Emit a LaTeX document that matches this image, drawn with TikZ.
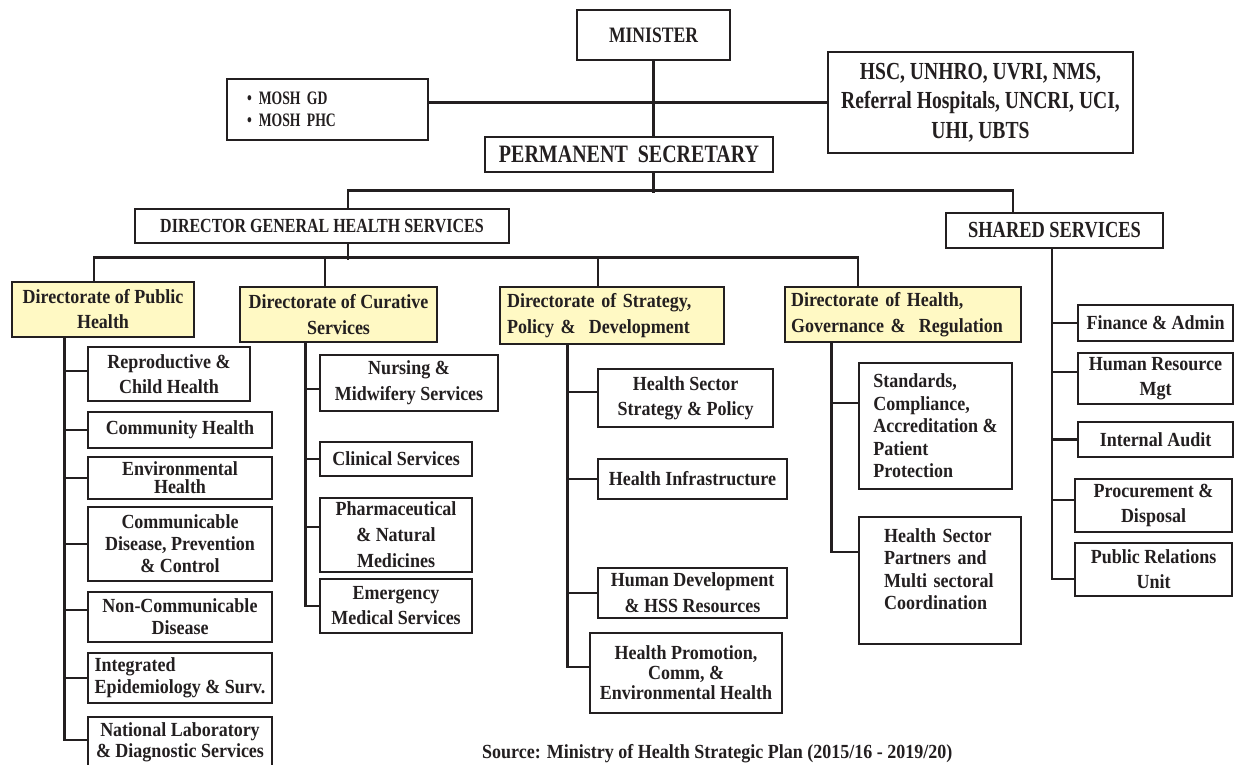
\documentclass[tikz,border=0pt]{standalone}
\usepackage{fontspec}
\setmainfont{Liberation Serif}
\newfontfamily\bodyf[FakeStretch=0.9]{Liberation Serif}
\newfontfamily\headf[FakeStretch=0.8]{Liberation Serif}
\newfontfamily\moshf[FakeStretch=0.72]{Liberation Serif}
\definecolor{diryellow}{RGB}{255,249,196}
\definecolor{ink}{RGB}{35,31,32}
\tikzset{
  box/.style={draw=ink, line width=2.6pt, inner sep=0pt, align=center, text=ink,
    font=\bodyf\bfseries\fontsize{20}{25}\selectfont},
  dirbox/.style={box, fill=diryellow},
  bs/.style={font=\bodyf\bfseries\fontsize{20}{#1}\selectfont},
  hd/.style={font=\headf\bfseries\fontsize{#1}{#1}\selectfont},
  conn/.style={draw=ink, line width=2.6pt},
}
\newcommand\bx[7][]{\node[box,#1,minimum width={#5pt-#3pt},minimum height={#6pt-#4pt}] (#2) at ({(#3+#5)/2},{(#4+#6)/2}) {#7};}
\begin{document}
\begin{tikzpicture}[x=1pt,y=-1pt]
\fill[white] (0,0) rectangle (1234,764);
\useasboundingbox (0,0) rectangle (1234,764);

% top level
\bx[hd=22]{minister}{577}{10}{730}{60}{MINISTER}
\bx[font=\moshf\bfseries\fontsize{19}{22}\selectfont, align=left, text width=161pt]{mosh}{227}{79}{428}{140}{\textbullet\hspace{7pt}MOSH GD\\\textbullet\hspace{7pt}MOSH PHC}
\bx[font=\headf\bfseries\fontsize{24.5}{29.5}\selectfont]{hsc}{828}{52}{1133}{153}{HSC, UNHRO, UVRI, NMS,\\Referral Hospitals, UNCRI, UCI,\\UHI, UBTS}
\bx[hd=25]{ps}{485}{137}{773}{172}{PERMANENT\ \ SECRETARY}
\bx[hd=20]{dg}{135}{209}{509}{243}{DIRECTOR GENERAL HEALTH SERVICES}
\bx[hd=23]{shared}{946}{213}{1163}{248}{SHARED SERVICES}

% directorates
\bx[dirbox]{ph}{12}{282}{194}{337}{Directorate of Public\\Health}
\bx[dirbox,bs=26]{cur}{240}{287}{437}{342}{Directorate of Curative\\Services}
\bx[dirbox,bs=26,align=left,text width=210pt]{strat}{500}{287}{724}{344}{Directorate of Strategy,\\Policy \&\ \ Development}
\bx[dirbox,bs=26,align=left,text width=224pt]{gov}{785}{287}{1021}{342}{Directorate of Health,\\Governance \&\ \ Regulation}

% public health units
\bx{rep}{88}{347}{250}{401}{Reproductive \&\\Child Health}
\bx{comm}{88}{412}{272}{448}{Community Health}
\bx[bs=18]{env}{88}{457}{272}{499}{Environmental\\Health}
\bx[bs=22]{cd}{88}{507}{272}{581}{Communicable\\Disease, Prevention\\\& Control}
\bx[bs=22]{ncd}{88}{592}{272}{642}{Non-Communicable\\Disease}
\bx[bs=22,align=left]{ies}{88}{653}{272}{703}{Integrated\\Epidemiology \& Surv.}
\bx[bs=21.5]{nl}{88}{717}{272}{768}{National Laboratory\\\& Diagnostic Services}

% curative units
\bx[bs=26]{nurs}{320}{355}{498}{411}{Nursing \&\\Midwifery Services}
\bx{clin}{320}{442}{472}{476}{Clinical Services}
\bx[bs=26]{pharm}{320}{498}{472}{572}{Pharmaceutical\\\& Natural\\Medicines}
\bx{emer}{320}{579}{472}{633}{Emergency\\Medical Services}

% strategy units
\bx{hssp}{598}{369}{773}{427}{Health Sector\\Strategy \& Policy}
\bx{hinf}{598}{459}{787}{499}{Health Infrastructure}
\bx[bs=26]{hdev}{598}{568}{787}{618}{Human Development\\\& HSS Resources}
\bx[bs=20]{hprom}{590}{633}{782}{713}{Health Promotion,\\Comm, \&\\Environmental Health}

% governance units
\bx[bs=22.5,align=left]{std}{859}{363}{1012}{489}{Standards,\\Compliance,\\Accreditation \&\\Patient\\Protection}
\bx[bs=22.5,align=left,text width=112pt]{hsp}{859}{517}{1021}{644}{Health Sector\\Partners and\\Multi sectoral\\Coordination\\\mbox{}}

% shared units
\bx{fin}{1078}{305}{1233}{341}{Finance \& Admin}
\bx{hr}{1078}{353}{1233}{404}{Human Resource\\Mgt}
\bx{ia}{1078}{422}{1233}{457}{Internal Audit}
\bx{proc}{1075}{479}{1232}{532}{Procurement \&\\Disposal}
\bx{pr}{1075}{543}{1232}{596}{Public Relations\\Unit}

% source
\node[anchor=base west, inner sep=0pt, text=ink, font=\bodyf\bfseries\fontsize{20}{24}\selectfont] (src) at (482,758) {Source: Ministry of Health Strategic Plan (2015/16 - 2019/20)};

% top connectors
\draw[conn] (minister.south) -- (minister.south |- ps.north);
\draw[conn] (hsc.west) -- (hsc.west -| mosh.east);
\draw[conn] (minister.south |- ps.south) -- ++(0,20);
\draw[conn] ([xshift=26pt]dg.north) -- ++(0,-17) -| ([xshift=-41.5pt]shared.north);
\draw[conn] ([xshift=26pt]dg.south) -- ++(0,16);
\draw[conn] ([xshift=-9pt]ph.north) -- ++(0,-23) -| ([xshift=-45pt]gov.north);
\draw[conn] ([xshift=-13.5pt]cur.north) -- ++(0,-28);
\draw[conn] ([xshift=-14pt]strat.north) -- ++(0,-28);

% public health spine
\coordinate (phsp) at ([xshift=54pt]ph.south west);
\foreach \n in {comm,env,cd,ies} \draw[conn] (phsp) |- (\n.west);
\draw[conn] (phsp) |- ([yshift=3pt]rep.west);
\draw[conn] (phsp) |- ([yshift=7pt]ncd.west);
\draw[conn] (phsp) |- ([yshift=2.5pt]nl.west);

% curative spine
\coordinate (cursp) at ([xshift=67pt]cur.south west);
\draw[conn] (cursp) |- ([yshift=-6pt]nurs.west);
\draw[conn] (cursp) |- (clin.west);
\draw[conn] (cursp) |- ([yshift=8pt]pharm.west);
\draw[conn] (cursp) |- (emer.west);

% strategy spine
\coordinate (strsp) at ([xshift=69pt]strat.south west);
\draw[conn] (strsp) |- ([yshift=6pt]hssp.west);
\draw[conn] (strsp) |- (hinf.west);
\draw[conn] (strsp) |- (hdev.west);
\draw[conn] (strsp) |- ([yshift=6pt]hprom.west);

% governance spine
\coordinate (govsp) at ([xshift=48pt]gov.south west);
\draw[conn] (govsp) |- ([yshift=23pt]std.west);
\draw[conn] (govsp) |- ([yshift=28.5pt]hsp.west);

% shared spine
\coordinate (shsp) at ([xshift=-2.5pt]shared.south);
\draw[conn] (shsp) |- (fin.west);
\draw[conn] (shsp) |- ([yshift=6.5pt]hr.west);
\draw[conn] (shsp) |- (ia.west);
\draw[conn] (shsp) |- ([yshift=5.5pt]proc.west);
\draw[conn] (shsp) |- ([yshift=-9.5pt]pr.west);
\end{tikzpicture}
\end{document}
